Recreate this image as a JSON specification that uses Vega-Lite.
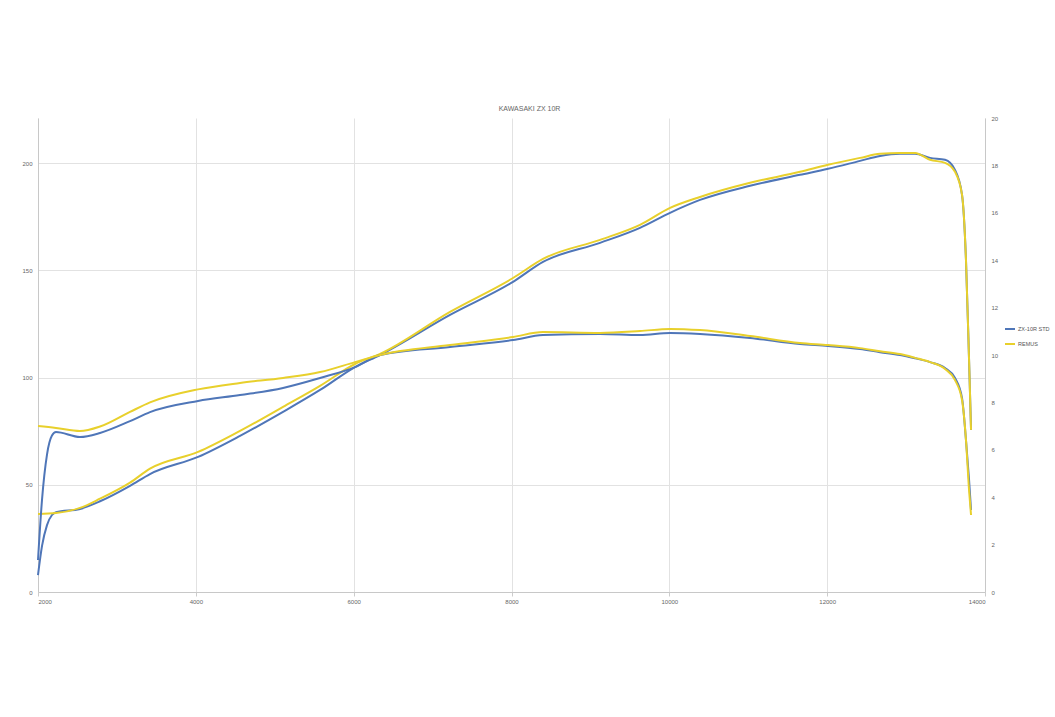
{
  "$schema": "https://vega.github.io/schema/vega-lite/v6.json",
  "width": 947,
  "height": 474,
  "autosize": "none",
  "padding": {"left": 38, "top": 118, "right": 70, "bottom": 125},
  "background": "white",
  "title": {"text": "KAWASAKI ZX 10R", "fontSize": 7, "color": "#666", "fontWeight": "normal", "font": "Liberation Sans", "offset": 3, "dx": 18},
  "config": {
    "view": {"stroke": null},
    "axis": {"labelFont": "Liberation Sans", "labelFontSize": 6, "labelColor": "#666", "gridColor": "#e2e2e2", "domainColor": "#c8c8c8", "tickColor": "#cccccc", "tickSize": 4, "title": null}
  },
  "data": {"values": [
    {"rpm": 2000, "run": "ZX-10R STD", "power": 7.9, "torque": 1.35},
    {"rpm": 2051, "run": "ZX-10R STD", "power": 21.5, "torque": 3.9},
    {"rpm": 2114, "run": "ZX-10R STD", "power": 31.2, "torque": 5.8},
    {"rpm": 2177, "run": "ZX-10R STD", "power": 35.9, "torque": 6.6},
    {"rpm": 2228, "run": "ZX-10R STD", "power": 37.2, "torque": 6.75},
    {"rpm": 2532, "run": "ZX-10R STD", "power": 38.7, "torque": 6.54},
    {"rpm": 2786, "run": "ZX-10R STD", "power": 42.3, "torque": 6.71},
    {"rpm": 3166, "run": "ZX-10R STD", "power": 49.5, "torque": 7.21},
    {"rpm": 3419, "run": "ZX-10R STD", "power": 55.0, "torque": 7.59},
    {"rpm": 4028, "run": "ZX-10R STD", "power": 63.0, "torque": 8.06},
    {"rpm": 4560, "run": "ZX-10R STD", "power": 72.8, "torque": 8.31},
    {"rpm": 5105, "run": "ZX-10R STD", "power": 84.0, "torque": 8.61},
    {"rpm": 5574, "run": "ZX-10R STD", "power": 94.2, "torque": 9.03},
    {"rpm": 6017, "run": "ZX-10R STD", "power": 104.9, "torque": 9.49},
    {"rpm": 6334, "run": "ZX-10R STD", "power": 110.5, "torque": 10.0},
    {"rpm": 7221, "run": "ZX-10R STD", "power": 129.2, "torque": 10.34},
    {"rpm": 8019, "run": "ZX-10R STD", "power": 144.6, "torque": 10.63},
    {"rpm": 8399, "run": "ZX-10R STD", "power": 153.9, "torque": 10.84},
    {"rpm": 9122, "run": "ZX-10R STD", "power": 162.8, "torque": 10.89},
    {"rpm": 9628, "run": "ZX-10R STD", "power": 169.8, "torque": 10.84},
    {"rpm": 10009, "run": "ZX-10R STD", "power": 176.8, "torque": 10.93},
    {"rpm": 10389, "run": "ZX-10R STD", "power": 182.8, "torque": 10.89},
    {"rpm": 11023, "run": "ZX-10R STD", "power": 189.4, "torque": 10.72},
    {"rpm": 11656, "run": "ZX-10R STD", "power": 194.5, "torque": 10.46},
    {"rpm": 12011, "run": "ZX-10R STD", "power": 197.3, "torque": 10.38},
    {"rpm": 12417, "run": "ZX-10R STD", "power": 201.0, "torque": 10.25},
    {"rpm": 12670, "run": "ZX-10R STD", "power": 203.3, "torque": 10.12},
    {"rpm": 12923, "run": "ZX-10R STD", "power": 204.3, "torque": 10.0},
    {"rpm": 13114, "run": "ZX-10R STD", "power": 204.3, "torque": 9.86},
    {"rpm": 13304, "run": "ZX-10R STD", "power": 202.4, "torque": 9.70},
    {"rpm": 13494, "run": "ZX-10R STD", "power": 201.5, "torque": 9.45},
    {"rpm": 13620, "run": "ZX-10R STD", "power": 196.8, "torque": 9.03},
    {"rpm": 13709, "run": "ZX-10R STD", "power": 185.2, "torque": 8.18},
    {"rpm": 13759, "run": "ZX-10R STD", "power": 154.8, "torque": 6.41},
    {"rpm": 13798, "run": "ZX-10R STD", "power": 108.2, "torque": 4.73},
    {"rpm": 13823, "run": "ZX-10R STD", "power": 75.6, "torque": 3.46},
    {"rpm": 2000, "run": "REMUS", "power": 36.4, "torque": 7.0},
    {"rpm": 2228, "run": "REMUS", "power": 36.8, "torque": 6.92},
    {"rpm": 2532, "run": "REMUS", "power": 39.2, "torque": 6.79},
    {"rpm": 2786, "run": "REMUS", "power": 43.5, "torque": 6.98},
    {"rpm": 3166, "run": "REMUS", "power": 51.0, "torque": 7.6},
    {"rpm": 3419, "run": "REMUS", "power": 57.5, "torque": 8.0},
    {"rpm": 4028, "run": "REMUS", "power": 65.3, "torque": 8.55},
    {"rpm": 4560, "run": "REMUS", "power": 75.1, "torque": 8.82},
    {"rpm": 5105, "run": "REMUS", "power": 86.3, "torque": 9.03},
    {"rpm": 5574, "run": "REMUS", "power": 96.1, "torque": 9.28},
    {"rpm": 6017, "run": "REMUS", "power": 106.3, "torque": 9.70},
    {"rpm": 6334, "run": "REMUS", "power": 111.0, "torque": 10.0},
    {"rpm": 7221, "run": "REMUS", "power": 130.6, "torque": 10.42},
    {"rpm": 8019, "run": "REMUS", "power": 146.4, "torque": 10.76},
    {"rpm": 8399, "run": "REMUS", "power": 155.3, "torque": 10.97},
    {"rpm": 9122, "run": "REMUS", "power": 164.2, "torque": 10.93},
    {"rpm": 9628, "run": "REMUS", "power": 171.2, "torque": 11.01},
    {"rpm": 10009, "run": "REMUS", "power": 179.1, "torque": 11.10},
    {"rpm": 10389, "run": "REMUS", "power": 184.2, "torque": 11.05},
    {"rpm": 11023, "run": "REMUS", "power": 190.8, "torque": 10.80},
    {"rpm": 11656, "run": "REMUS", "power": 195.9, "torque": 10.51},
    {"rpm": 12011, "run": "REMUS", "power": 199.2, "torque": 10.42},
    {"rpm": 12417, "run": "REMUS", "power": 202.4, "torque": 10.29},
    {"rpm": 12670, "run": "REMUS", "power": 204.3, "torque": 10.16},
    {"rpm": 12923, "run": "REMUS", "power": 204.7, "torque": 10.04},
    {"rpm": 13114, "run": "REMUS", "power": 204.7, "torque": 9.88},
    {"rpm": 13304, "run": "REMUS", "power": 201.5, "torque": 9.70},
    {"rpm": 13494, "run": "REMUS", "power": 200.1, "torque": 9.41},
    {"rpm": 13620, "run": "REMUS", "power": 195.9, "torque": 8.94},
    {"rpm": 13709, "run": "REMUS", "power": 185.2, "torque": 8.10},
    {"rpm": 13759, "run": "REMUS", "power": 154.8, "torque": 6.41},
    {"rpm": 13798, "run": "REMUS", "power": 108.2, "torque": 4.30},
    {"rpm": 13823, "run": "REMUS", "power": 75.6, "torque": 3.25}
  ]},
  "encoding": {
    "x": {"field": "rpm", "type": "quantitative", "scale": {"domain": [2000, 14000], "nice": false},
          "axis": {"values": [2000, 4000, 6000, 8000, 10000, 12000, 14000], "format": "d", "grid": true, "labelPadding": 2}},
    "color": {"field": "run", "type": "nominal",
              "scale": {"domain": ["ZX-10R STD", "REMUS"], "range": ["#4f76b8", "#e8d02c"]},
              "legend": {"title": null, "orient": "none", "legendX": 966, "legendY": 205, "symbolType": "stroke", "symbolStrokeWidth": 2, "symbolSize": 100, "labelFontSize": 5.5, "labelOffset": 2, "labelFont": "Liberation Sans", "labelColor": "#555", "rowPadding": 5}}
  },
  "layer": [
    {
      "mark": {"type": "line", "strokeWidth": 2, "interpolate": "monotone"},
      "encoding": {
        "y": {"field": "power", "type": "quantitative", "scale": {"domain": [0, 221], "nice": false},
              "axis": {"orient": "left", "values": [0, 50, 100, 150, 200], "grid": true, "ticks": false, "labelPadding": 6}}
      }
    },
    {
      "mark": {"type": "line", "strokeWidth": 2, "interpolate": "monotone"},
      "encoding": {
        "y": {"field": "torque", "type": "quantitative", "scale": {"domain": [0, 20], "nice": false},
              "axis": {"orient": "right", "values": [0, 2, 4, 6, 8, 10, 12, 14, 16, 18, 20], "grid": false, "ticks": false, "labelPadding": 6}}
      }
    }
  ],
  "resolve": {"scale": {"y": "independent"}}
}
